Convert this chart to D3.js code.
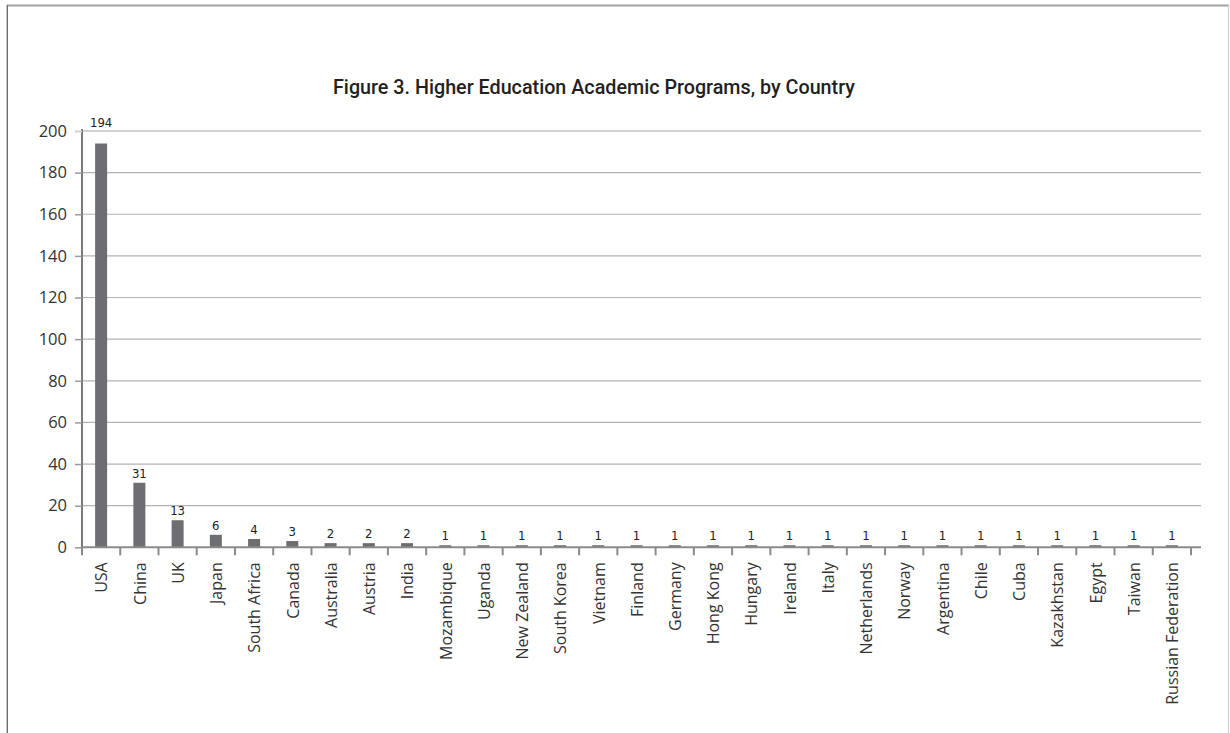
<!DOCTYPE html>
<html>
<head>
<meta charset="utf-8">
<script src="https://cdn.jsdelivr.net/npm/d3@7/dist/d3.min.js"></script>
<style>
  html, body { margin: 0; padding: 0; background: #fff; }
  svg { display: block; }
</style>
</head>
<body>
<svg id="chart" width="1230" height="733"></svg>
<script>
const titleText = "Figure 3. Higher Education Academic Programs, by Country";
const categories = ["USA","China","UK","Japan","South Africa","Canada","Australia","Austria","India","Mozambique","Uganda","New Zealand","South Korea","Vietnam","Finland","Germany","Hong Kong","Hungary","Ireland","Italy","Netherlands","Norway","Argentina","Chile","Cuba","Kazakhstan","Egypt","Taiwan","Russian Federation"];
const values = [194,31,13,6,4,3,2,2,2,1,1,1,1,1,1,1,1,1,1,1,1,1,1,1,1,1,1,1,1];
const yTicks = [0,20,40,60,80,100,120,140,160,180,200];

const svg = d3.select("#chart");

// outer frame
svg.append("line").attr("x1", 7).attr("x2", 1229).attr("y1", 5.5).attr("y2", 5.5)
  .attr("stroke", "#a3a3a3").attr("stroke-width", 2);
svg.append("line").attr("x1", 7.3).attr("x2", 7.3).attr("y1", 5).attr("y2", 733)
  .attr("stroke", "#6e6e6e").attr("stroke-width", 1.4);
svg.append("line").attr("x1", 1228.5).attr("x2", 1228.5).attr("y1", 5).attr("y2", 733)
  .attr("stroke", "#cfcfcf").attr("stroke-width", 1.2);

const left = 82, right = 1191, gridRight = 1201, y0 = 547.3, yTop = 131;

const x = d3.scaleBand().domain(categories).range([left, right]).paddingInner(0.686).paddingOuter(0.343);
const y = d3.scaleLinear().domain([0, 200]).range([y0, yTop]);

// gridlines
svg.append("g").selectAll("line").data(yTicks.filter(d => d > 0)).join("line")
  .attr("x1", left).attr("x2", gridRight)
  .attr("y1", d => y(d)).attr("y2", d => y(d))
  .attr("stroke", d => d === 200 ? "#d2d2d2" : "#b4b4b4")
  .attr("stroke-width", d => d === 200 ? 2 : 1.2);

// y axis
const yAxis = svg.append("g").attr("transform", `translate(${left},0)`)
  .call(d3.axisLeft(y).tickValues(yTicks).tickSize(7).tickPadding(8));
yAxis.select(".domain").attr("stroke", "#7a7a7a").attr("stroke-width", 2).attr("d", `M0,${y0}V${yTop - 2}`);
yAxis.selectAll(".tick line").attr("stroke", d => d === 200 ? "#d2d2d2" : "#9a9a9a").attr("stroke-width", d => d === 200 ? 2 : 1.5);
yAxis.selectAll(".tick text").attr("font-family", "'Open Sans', sans-serif").attr("font-size", 16.5).attr("fill", "#333");

// bars
svg.append("g").selectAll("rect").data(categories).join("rect")
  .attr("x", d => x(d))
  .attr("width", x.bandwidth())
  .attr("y", (d, i) => y(values[i]))
  .attr("height", (d, i) => y0 - y(values[i]))
  .attr("fill", "#6d6e71");

// x axis
const xAxisG = svg.append("g").attr("transform", `translate(0,${y0})`);
const step = x.step();
const tickPositions = d3.range(categories.length + 1).map(i => left + i * step);
xAxisG.append("line").attr("x1", left).attr("x2", gridRight).attr("y1", 0).attr("y2", 0)
  .attr("stroke", "#8a8a8a").attr("stroke-width", 2);
xAxisG.selectAll("line.tk").data(tickPositions).join("line").attr("class", "tk")
  .attr("x1", d => d).attr("x2", d => d).attr("y1", 0).attr("y2", 8)
  .attr("stroke", "#8a8a8a").attr("stroke-width", 2);

// category labels
svg.append("g").selectAll("text").data(categories).join("text")
  .attr("transform", d => `translate(${x(d) + x.bandwidth() / 2 + 0.5},${y0 + 15}) rotate(-90)`)
  .attr("text-anchor", "end")
  .attr("dy", "0.36em")
  .attr("font-family", "'Open Sans', sans-serif")
  .attr("font-size", 16)
  .attr("fill", "#333")
  .text(d => d);

// value labels (a label that would sit on the top gridline goes above it)
svg.append("g").selectAll("text").data(categories).join("text")
  .attr("x", d => x(d) + x.bandwidth() / 2)
  .attr("y", (d, i) => {
    const ly = y(values[i]) - 5;
    return ly < yTop + 14 ? yTop - 4 : ly;
  })
  .attr("text-anchor", "middle")
  .attr("font-family", "'DejaVu Sans Condensed', 'DejaVu Sans', sans-serif")
  .attr("font-size", 13)
  .attr("fill", "#222")
  .text((d, i) => values[i]);

// title
svg.append("text")
  .attr("x", 594).attr("y", 94)
  .attr("text-anchor", "middle")
  .attr("font-family", "Roboto, 'DejaVu Sans Condensed', sans-serif")
  .attr("font-weight", 500)
  .attr("font-size", 21)
  .attr("fill", "#231f20")
  .attr("textLength", 522)
  .attr("lengthAdjust", "spacingAndGlyphs")
  .text(titleText);
</script>
</body>
</html>
